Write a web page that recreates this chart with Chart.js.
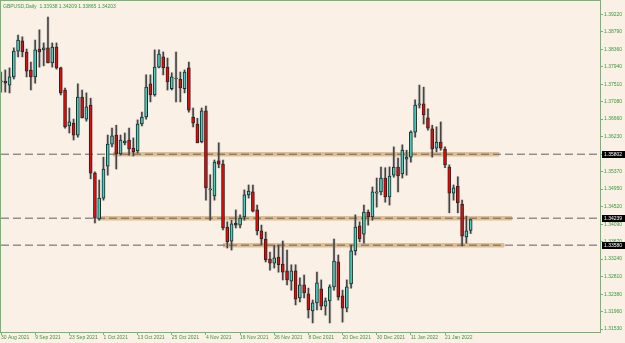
<!DOCTYPE html>
<html>
<head>
<meta charset="utf-8">
<script src="https://cdn.jsdelivr.net/npm/chart.js@4.4.1/dist/chart.umd.min.js"></script>
<style>
  html, body { margin: 0; padding: 0; background: #FAF0E6; }
  #wrap { width: 625px; height: 343px; position: relative; }
</style>
</head>
<body>
<div id="wrap"><canvas id="chart"></canvas></div>
<script>
// GBPUSD daily candles, 30 Aug 2021 .. end of Jan 2022
var opens = [1.3757,1.3759,1.3749,1.3769,1.3832,1.3857,1.3830,1.3786,1.3769,1.3837,
  1.3835,1.3840,1.3803,1.3842,1.3791,1.3737,1.3649,1.3656,1.3627,1.3720,
  1.3666,1.3700,1.3534,1.3422,1.3473,1.3551,1.3605,1.3627,1.3581,1.3608,
  1.3615,1.3595,1.3588,1.3654,1.3671,1.3752,1.3725,1.3793,1.3818,1.3793,
  1.3740,1.3764,1.3764,1.3740,1.3791,1.3671,1.3654,1.3610,1.3686,1.3493,
  1.3478,1.3564,1.3556,1.3402,1.3368,1.3412,1.3407,1.3427,1.3481,1.3488,
  1.3444,1.3393,1.3373,1.3324,1.3314,1.3329,1.3312,1.3295,1.3270,1.3295,
  1.3229,1.3261,1.3239,1.3197,1.3217,1.3251,1.3209,1.3222,1.3256,1.3317,
  1.3234,1.3204,1.3263,1.3344,1.3405,1.3385,1.3439,1.3427,1.3485,1.3488,
  1.3522,1.3476,1.3529,1.3549,1.3532,1.3568,1.3573,1.3634,1.3700,1.3703,
  1.3669,1.3642,1.3595,1.3610,1.3593,1.3549,1.3485,1.3502,1.3458,1.3378,
  1.33938];
var highs = [1.3781,1.3786,1.3791,1.3840,1.3871,1.3867,1.3837,1.3805,1.3859,1.3884,
  1.3852,1.3915,1.3852,1.3852,1.3793,1.3742,1.3693,1.3666,1.3752,1.3737,
  1.3730,1.3717,1.3537,1.3517,1.3573,1.3627,1.3644,1.3651,1.3627,1.3632,
  1.3644,1.3620,1.3664,1.3683,1.3774,1.3774,1.3835,1.3835,1.3830,1.3815,
  1.3779,1.3830,1.3781,1.3786,1.3805,1.3693,1.3668,1.3693,1.3698,1.3530,
  1.3566,1.3608,1.3566,1.3415,1.3419,1.3444,1.3432,1.3493,1.3505,1.3505,
  1.3456,1.3407,1.3390,1.3341,1.3358,1.3358,1.3368,1.3346,1.3310,1.3310,
  1.3278,1.3285,1.3253,1.3224,1.3292,1.3273,1.3229,1.3261,1.3373,1.3334,
  1.3248,1.3273,1.3358,1.3432,1.3415,1.3456,1.3444,1.3500,1.3522,1.3549,
  1.3547,1.3549,1.3598,1.3571,1.3603,1.3590,1.3637,1.3713,1.3749,1.3744,
  1.3691,1.3651,1.3647,1.3659,1.3598,1.3554,1.3505,1.3525,1.3468,1.3429,
  1.34209];
var lows = [1.3732,1.3732,1.3730,1.3764,1.3818,1.3818,1.3769,1.3737,1.3754,1.3793,
  1.3796,1.3803,1.3793,1.3788,1.3725,1.3644,1.3632,1.3615,1.3622,1.3669,
  1.3661,1.3520,1.3412,1.3419,1.3468,1.3529,1.3598,1.3544,1.3578,1.3603,
  1.3578,1.3576,1.3583,1.3649,1.3666,1.3708,1.3722,1.3791,1.3774,1.3737,
  1.3737,1.3708,1.3708,1.3730,1.3683,1.3647,1.3608,1.3608,1.3468,1.3419,
  1.3468,1.3547,1.3395,1.3351,1.3346,1.3400,1.3400,1.3419,1.3473,1.3439,
  1.3383,1.3358,1.3317,1.3297,1.3302,1.3292,1.3273,1.3261,1.3248,1.3212,
  1.3219,1.3229,1.3180,1.3168,1.3200,1.3200,1.3187,1.3168,1.3248,1.3224,
  1.3170,1.3195,1.3253,1.3334,1.3366,1.3363,1.3407,1.3419,1.3451,1.3481,
  1.3463,1.3456,1.3524,1.3488,1.3522,1.3529,1.3561,1.3622,1.3693,1.3654,
  1.3639,1.3573,1.3586,1.3590,1.3547,1.3437,1.3468,1.3437,1.3356,1.3363,
  1.33865];
var closes = [1.3759,1.3754,1.3769,1.3832,1.3859,1.3830,1.3783,1.3769,1.3835,1.3830,
  1.3840,1.3803,1.3842,1.3791,1.3730,1.3647,1.3659,1.3627,1.3720,1.3669,
  1.3696,1.3534,1.3424,1.3473,1.3544,1.3605,1.3625,1.3581,1.3615,1.3612,
  1.3593,1.3586,1.3654,1.3671,1.3744,1.3725,1.3793,1.3825,1.3791,1.3757,
  1.3769,1.3766,1.3742,1.3781,1.3688,1.3656,1.3608,1.3686,1.3498,1.3495,
  1.3561,1.3556,1.3400,1.3366,1.3410,1.3407,1.3424,1.3481,1.3490,1.3441,
  1.3393,1.3373,1.3322,1.3314,1.3327,1.3310,1.3292,1.3273,1.3295,1.3226,
  1.3261,1.3241,1.3200,1.3217,1.3266,1.3209,1.3222,1.3256,1.3319,1.3231,
  1.3204,1.3256,1.3344,1.3402,1.3373,1.3439,1.3427,1.3488,1.3488,1.3522,
  1.3476,1.3527,1.3549,1.3527,1.3590,1.3573,1.3634,1.3700,1.3703,1.3676,
  1.3644,1.3593,1.3610,1.3595,1.3554,1.3485,1.3498,1.3461,1.3380,1.3393,
  1.34203];

// date labels on the time axis, every 8th bar
var xTickIdx = [0, 8, 16, 24, 32, 40, 48, 56, 64, 72, 80, 88, 96, 104];
var xTickLabels = ["30 Aug 2021", "9 Sep 2021", "23 Sep 2021", "1 Oct 2021", "13 Oct 2021",
  "25 Oct 2021", "4 Nov 2021", "16 Nov 2021", "26 Nov 2021", "8 Dec 2021", "20 Dec 2021",
  "30 Dec 2021", "11 Jan 2022", "21 Jan 2022"];

// price scale labels
var yTicks = [1.39220, 1.38790, 1.38360, 1.37940, 1.37510, 1.37080, 1.36660, 1.36230,
  1.35800, 1.35370, 1.34950, 1.34520, 1.34090, 1.33670, 1.33240, 1.32810, 1.32380,
  1.31960, 1.31530];

// horizontal levels and the zones drawn on them (zone start / end in bars)
var levels = [1.35802, 1.34239, 1.33580];
var zoneFrom = [26.2, 22.7, 52.0];
var zoneTo = [116.7, 119.7, 117.9];

var BG = "#FAF0E6";
var AXIS = "#6fb86f";
var TEXT = "#3a9a3a";
var BULL = "#40d4c4";
var BEAR = "#ff0000";
var XMAX = 140.3;

var n = opens.length;
var idx = opens.map(function (_, i) { return i; });
var bodies = idx.map(function (i) {
  return { x: i, y: [Math.min(opens[i], closes[i]), Math.max(opens[i], closes[i])] };
});
var wicks = idx.map(function (i) { return { x: i, y: [lows[i], highs[i]] }; });
var bodyColors = idx.map(function (i) { return closes[i] >= opens[i] ? BULL : BEAR; });

var datasets = [];
levels.forEach(function (lv, k) {
  datasets.push({
    type: "line", data: [{ x: zoneFrom[k], y: lv }, { x: zoneTo[k], y: lv }],
    borderColor: "rgba(222,184,135,0.9)", borderWidth: 4.5, pointRadius: 0, order: 6
  });
  datasets.push({
    type: "line", data: [{ x: 0, y: lv }, { x: XMAX, y: lv }],
    borderColor: "#606060", borderWidth: 1, borderDash: [8, 4], pointRadius: 0, order: 5
  });
});
datasets.push({
  type: "bar", data: wicks, backgroundColor: "rgba(130,130,130,0.2)",
  barThickness: 3, maxBarThickness: 3, order: 4
});
datasets.push({
  type: "bar", data: wicks, backgroundColor: "#444444",
  barThickness: 1, maxBarThickness: 1, order: 3
});
datasets.push({
  type: "bar", data: bodies, backgroundColor: bodyColors, borderColor: "#1e2a2a",
  borderWidth: 1, borderSkipped: false, minBarLength: 1,
  barThickness: 3, maxBarThickness: 3, order: 1
});

var titleText = "GBPUSD,Daily  " + opens[n - 1].toFixed(5) + " " + highs[n - 1].toFixed(5) +
  " " + lows[n - 1].toFixed(5) + " " + closes[n - 1].toFixed(5);

var decor = {
  id: "decor",
  beforeDraw: function (chart) {
    var ctx = chart.ctx;
    ctx.save();
    ctx.fillStyle = BG;
    ctx.fillRect(0, 0, chart.width, chart.height);
    ctx.restore();
  },
  afterDraw: function (chart) {
    var ctx = chart.ctx, a = chart.chartArea, y = chart.scales.y;
    ctx.save();
    ctx.strokeStyle = AXIS;
    ctx.lineWidth = 1;
    ctx.strokeRect(a.left - 0.5, a.top - 0.5, a.right - a.left + 1, a.bottom - a.top + 1);
    ctx.font = '5px "Liberation Sans"';
    ctx.fillStyle = TEXT;
    ctx.textBaseline = "alphabetic";
    ctx.fillText(titleText, 3, 8);
    ctx.textBaseline = "middle";
    levels.forEach(function (lv) {
      var py = Math.round(y.getPixelForValue(lv));
      ctx.fillStyle = "#000000";
      ctx.fillRect(a.right + 2, py - 3, 23, 7);
      ctx.fillStyle = "#ffffff";
      ctx.fillText(lv.toFixed(5), a.right + 4, py + 0.5);
    });
    ctx.restore();
  }
};

new Chart(document.getElementById("chart"), {
  type: "bar",
  data: { datasets: datasets },
  plugins: [decor],
  options: {
    responsive: true,
    maintainAspectRatio: false,
    animation: false,
    devicePixelRatio: 1,
    layout: { padding: { left: 1, top: 1, right: 0, bottom: 0 } },
    datasets: { bar: { grouped: false } },
    plugins: { legend: { display: false }, tooltip: { enabled: false } },
    scales: {
      x: {
        type: "linear", min: 0, max: XMAX, offset: false,
        grid: { offset: false, drawOnChartArea: false, drawTicks: true, tickLength: 3, color: AXIS },
        border: { display: false },
        ticks: {
          autoSkip: false, maxRotation: 0, minRotation: 0, align: "start", padding: 0,
          color: TEXT, font: { family: "Liberation Sans", size: 5 },
          callback: function (v) {
            var k = xTickIdx.indexOf(v);
            return k < 0 ? "" : xTickLabels[k];
          }
        },
        afterBuildTicks: function (s) { s.ticks = xTickIdx.map(function (v) { return { value: v }; }); },
        afterFit: function (s) { s.height = 11; s.paddingLeft = 0; s.paddingRight = 0; }
      },
      y: {
        type: "linear", position: "right", min: 1.31458, max: 1.39545,
        grid: { drawOnChartArea: false, drawTicks: true, tickLength: 3, color: AXIS },
        border: { display: false },
        ticks: {
          padding: 1, color: TEXT, font: { family: "Liberation Sans", size: 5 },
          callback: function (v) { return Number(v).toFixed(5); }
        },
        afterBuildTicks: function (s) { s.ticks = yTicks.map(function (v) { return { value: v }; }); },
        afterFit: function (s) { s.width = 25; s.paddingTop = 0; s.paddingBottom = 0; }
      }
    }
  }
});
</script>
</body>
</html>
